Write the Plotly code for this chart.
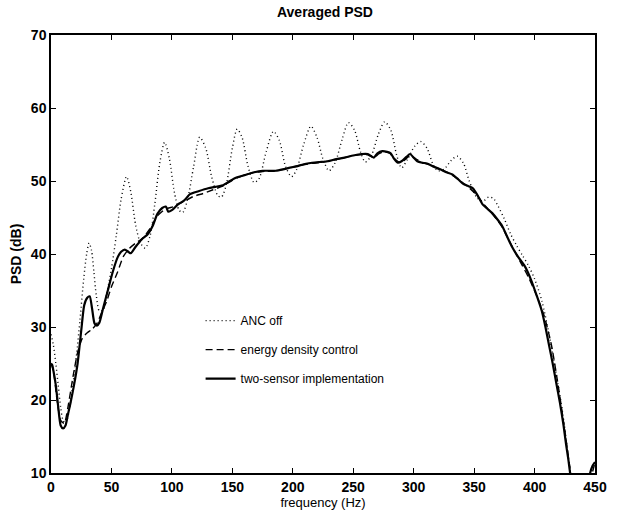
import plotly.graph_objects as go

# ANC off (dotted)
f_off = [0, 2, 4, 6, 8, 10, 12, 15, 18, 21, 24, 27, 29.5, 31.5, 33.5, 35.5, 37.5, 40, 43, 46, 50, 54, 58, 62.5, 66, 70, 74, 78,
         82, 86, 90, 94, 98, 102, 106, 109, 113, 118, 123, 128, 133, 138, 141, 145, 150, 154, 158, 163, 168, 172,
         178, 184, 189, 194, 199, 203, 209, 215, 220, 225, 230, 235, 241, 246, 251, 256, 260, 265, 271, 276, 281,
         286, 290, 295, 301, 306, 311, 316, 320, 325, 331, 336, 341, 346, 352, 357, 362, 366, 370, 375, 380, 385,
         390, 395, 400, 406, 412, 418, 423, 427, 430]
v_off = [29, 27.5, 25, 22, 19, 17.2, 16.8, 18.5, 22, 26, 31, 36.5, 40, 41.5, 40.5, 37.5, 34.3, 32.2, 32.3, 34.5, 38, 42.5, 47.5, 50.6, 48.5, 44, 41.5, 40.8,
         42.5, 47, 52.5, 55.3, 53, 48.5, 46, 45.7, 47.5, 52, 56, 54.5, 50.5, 48, 47.8, 49.5, 54.5, 57.1, 56, 52, 49.8, 50.3,
         54, 56.8, 55.5, 52, 50.6, 51.5, 55, 57.5, 56, 53, 51.4, 52.5, 55.8, 58, 57, 54, 52.6, 53.5, 56.5, 58.1, 57,
         53.5, 51.8, 53, 54.8, 55.4, 54.5, 52.3, 51.4, 51.6, 52.8, 53.4, 52.5, 50, 47.8, 47.2, 47.8, 47.6, 46.5, 44.8, 42.8, 41.2,
         39.8, 38.4, 36.6, 33.6, 29, 23.5, 18.5, 13.5, 9.5]

# energy density control (dashed)
f_edc = [0, 2, 5, 8, 11, 14, 18, 22, 26, 30, 34, 38, 42, 46, 50, 55, 60, 65, 70, 76, 82, 88, 95, 102, 110, 118, 126, 134,
         142, 150, 158, 166, 175, 185, 195, 205, 215, 225, 235, 245, 255, 262, 267, 271, 275, 280, 284, 288, 292, 297,
         302, 308, 315, 322, 330, 338, 345, 352, 358, 365, 372, 380, 388, 395, 402, 408, 414, 420, 425, 429, 433,
         438, 443, 447, 450]
v_edc = [25, 24, 20, 17.2, 16.8, 19, 23, 26.5, 28.5, 29.2, 29.7, 30.5, 32, 33.5, 35.5, 37.5, 39.7, 40.8, 41.5, 42.2, 43.5, 45.2, 46.2, 46.5, 47.2, 47.9, 48.3, 48.8,
         49.3, 50.1, 50.7, 51.1, 51.3, 51.4, 51.7, 52.1, 52.4, 52.6, 52.9, 53.3, 53.6, 53.6, 53.2, 53.7, 54, 53.8, 53.1, 52.6, 52.8, 53.5,
         53, 52.5, 52.1, 51.6, 51, 50.1, 49.2, 48.1, 46.8, 45.5, 44, 41.5, 39, 36.8, 34.2, 31.5, 27.5, 21.5, 15.8, 11, 6,
         2, 5, 9.5, 11.4]

# two-sensor implementation (solid)
f_two = [0, 1, 2, 4, 6, 8, 10, 12, 14, 16, 19, 22, 25, 27.5, 30, 32, 34, 36, 38, 40, 43, 47, 51, 55, 58, 61, 64, 66, 70, 75,
         80, 84, 88, 92, 95, 97, 100, 105, 110, 115, 122, 130, 136, 142, 148, 154, 160, 168, 175, 180, 186, 192, 197,
         203, 209, 216, 222, 229, 236, 243, 250, 257, 262, 267, 270, 274, 278, 281, 284, 287, 290, 294, 297, 300, 303,
         307, 311, 316, 322, 327, 332, 337, 341, 345, 349, 353, 357, 361, 365, 369, 373, 377, 381, 386, 392, 397, 402,
         406, 409, 412, 415, 418, 421, 424, 426, 428, 430, 433, 438, 443, 446, 448, 450]
v_two = [25, 24.8, 24, 22, 19, 16.5, 16.1, 16.5, 18, 19.5, 22, 25, 29.5, 33, 34, 34.2, 32.5, 30.5, 30.2, 30.6, 32.5, 35, 37.5, 39.5, 40.3, 40.6, 40.3, 40.1, 41, 42,
         42.7, 43.8, 45.5, 46.3, 46.5, 45.8, 46, 46.8, 47.3, 48.2, 48.6, 49, 49.2, 49.4, 50, 50.5, 50.8, 51.2, 51.4, 51.4, 51.4, 51.6, 51.8,
         52, 52.3, 52.5, 52.6, 52.7, 53, 53.2, 53.5, 53.7, 53.7, 53.2, 53.8, 54.1, 54, 53.8, 53, 52.5, 52.7, 53.3, 53.7, 53.2, 52.7,
         52.5, 52.4, 52, 51.6, 51.2, 50.9, 50.2, 49.6, 49.3, 49, 48, 46.8, 46.2, 45.6, 44.8, 43.9, 42.5, 41.1, 39.7, 38.3, 36.5, 34.2,
         32.2, 30, 27.5, 25, 22.3, 19.6, 16.5, 14, 11.8, 9.2, 5, 2, 6, 10, 11, 11.5]

x_ticks = [0, 50, 100, 150, 200, 250, 300, 350, 400, 450]
y_ticks = [10, 20, 30, 40, 50, 60, 70]

font_family = "Liberation Sans, Arial, sans-serif"

fig = go.Figure()
fig.add_trace(go.Scatter(x=f_off, y=v_off, mode="lines", name="ANC off", legendgroup="a",
                         line=dict(color="black", width=1.4, dash="1px,3px", shape="spline", smoothing=0.8)))
fig.add_trace(go.Scatter(x=f_edc, y=v_edc, mode="lines", name="energy density control", legendgroup="b",
                         line=dict(color="black", width=1.4, dash="7px,4px", shape="spline", smoothing=0.6)))
fig.add_trace(go.Scatter(x=f_two, y=v_two, mode="lines", name="two-sensor implementation", legendgroup="c",
                         line=dict(color="black", width=2.2, shape="spline", smoothing=0.6)))

axis_common = dict(showline=True, linecolor="black", linewidth=1.5, mirror="ticks", ticks="inside",
                   ticklen=5, tickwidth=1.2, tickcolor="black", showgrid=False, zeroline=False,
                   tickfont=dict(family=font_family, size=14, color="black", weight="bold"))

fig.update_xaxes(range=[0, 450], tickvals=x_ticks, ticktext=[str(t) for t in x_ticks],
                 title=dict(text="frequency (Hz)", standoff=1,
                            font=dict(family=font_family, size=13, color="black")),
                 **axis_common)
fig.update_yaxes(range=[10, 70], tickvals=y_ticks, ticktext=[str(t) for t in y_ticks],
                 title=dict(text="PSD (dB)", standoff=6,
                            font=dict(family=font_family, size=14, color="black", weight="bold")),
                 **axis_common)

fig.update_layout(
    width=619, height=517,
    margin=dict(l=51, r=14, t=35, b=42),
    paper_bgcolor="white", plot_bgcolor="white",
    title=dict(text="Averaged PSD", x=0.525, xanchor="center", y=0.987, yanchor="top",
               font=dict(family=font_family, size=14, color="black", weight="bold")),
    showlegend=True,
    legend=dict(x=0.275, y=0.381, xanchor="left", yanchor="top", bgcolor="rgba(0,0,0,0)",
                traceorder="grouped", tracegroupgap=10, itemwidth=30,
                font=dict(family=font_family, size=12, color="black")),
)

fig.write_html("out.html")
